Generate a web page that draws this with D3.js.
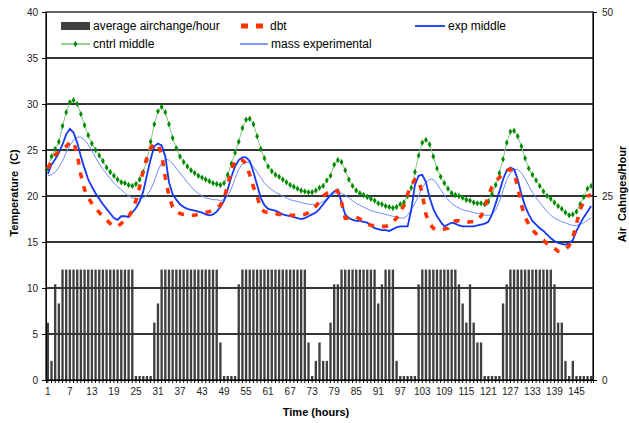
<!DOCTYPE html>
<html>
<head>
<meta charset="utf-8">
<script src="https://cdn.jsdelivr.net/npm/d3@7"></script>
<style>
  html, body { margin: 0; padding: 0; background: #fff; }
  svg { display: block; font-family: "Liberation Sans", Arial, sans-serif; }
</style>
</head>
<body>
<svg id="chart" width="629" height="423"></svg>
<script>
// Hourly measurements, hour 1 .. 149
const hours = d3.range(1, 150);

// Average air changes per hour (right axis)
const airChange = [
  7.8, 2.6, 13, 10.4, 15, 15, 15, 15, 15, 15,
  15, 15, 15, 15, 15, 15, 15, 15, 15, 15,
  15, 15, 15, 15, 0.55, 0.55, 0.55, 0.55, 0.55, 7.8,
  10.4, 15, 15, 15, 15, 15, 15, 15, 15, 15,
  15, 15, 15, 15, 15, 15, 15, 5.1, 0.55, 0.55,
  0.55, 0.55, 13, 15, 15, 15, 15, 15, 15, 15,
  15, 15, 15, 15, 15, 15, 15, 15, 15, 15,
  15, 5.1, 0.55, 2.6, 5.1, 2.6, 2.6, 7.8, 13, 13,
  15, 15, 15, 15, 15, 15, 15, 15, 15, 15,
  10.4, 13, 15, 15, 15, 2.6, 0.55, 0.55, 0.55, 0.55,
  0.55, 13, 15, 15, 15, 15, 15, 15, 15, 15,
  15, 15, 13, 10.4, 7.8, 13, 7.8, 5.1, 5.1, 0.55,
  0.55, 0.55, 0.55, 0.55, 10.4, 13, 15, 15, 15, 15,
  15, 15, 15, 15, 15, 15, 15, 15, 13, 7.8,
  7.8, 2.6, 0.55, 2.6, 0.55, 0.55, 0.55, 0.55, 0.55
];

// Dry bulb temperature (C)
const dbt = [
  23.0, 23.8, 24.5, 24.8, 25.1, 25.4, 25.8, 25.9, 24.5, 22.3,
  20.7, 19.8, 19.2, 18.7, 18.2, 17.8, 17.4, 17.0, 16.7, 16.7,
  17.0, 17.5, 17.8, 18.4, 19.5, 21.0, 22.8, 24.2, 25.2, 25.7,
  25.6, 24.5, 22.0, 20.0, 18.8, 18.3, 18.1, 18.0, 18.0, 17.9,
  17.9, 18.0, 18.1, 18.2, 18.3, 18.5, 18.7, 19.0, 19.7, 21.2,
  22.8, 23.8, 24.0, 23.9, 23.5, 22.3, 21.0, 20.0, 18.6, 18.3,
  18.2, 18.1, 18.1, 18.0, 18.0, 18.0, 17.9, 17.9, 17.9, 17.9,
  18.0, 18.2, 18.6, 18.9, 19.4, 20.0, 20.3, 20.5, 20.7, 20.5,
  19.3, 17.6, 17.6, 17.7, 17.7, 17.5, 17.2, 17.0, 16.8, 16.8,
  16.8, 16.7, 16.7, 16.8, 17.2, 17.6, 18.2, 19.0, 20.2, 21.2,
  21.8, 21.8, 20.2, 18.0, 17.0, 16.5, 16.3, 16.3, 16.4, 16.5,
  17.0, 17.3, 17.3, 17.2, 17.1, 17.2, 17.2, 17.3, 17.8, 18.7,
  20.0, 21.0, 21.6, 22.0, 22.4, 22.8, 22.9, 22.5, 21.0, 19.0,
  17.7, 16.9, 16.3, 15.9, 15.5, 15.2, 14.8, 14.5, 14.3, 14.0,
  14.0, 14.2, 14.6, 15.5, 17.0, 18.5, 19.5, 20.0, 20.1
];

// Experimental room, middle height (C)
const expMiddle = [
  22.4, 23.4, 24.0, 24.7, 25.6, 26.7, 27.3, 26.9, 25.8, 24.3,
  23.0, 21.8, 21.0, 20.3, 19.7, 19.1, 18.6, 18.1, 17.6, 17.4,
  17.8, 17.8, 17.7, 18.2, 18.7, 19.4, 20.5, 22.3, 24.0, 25.4,
  25.7, 25.5, 24.3, 21.5, 20.2, 19.6, 19.1, 18.8, 18.6, 18.5,
  18.4, 18.3, 18.2, 18.0, 17.9, 18.0, 18.3, 18.8, 19.5, 20.7,
  22.1, 23.2, 23.9, 24.2, 24.2, 23.8, 22.6, 21.2, 19.8, 19.0,
  18.6, 18.5, 18.4, 18.2, 18.0, 17.9, 17.8, 17.7, 17.6, 17.5,
  17.6, 17.8, 18.0, 18.2, 18.6, 19.1, 19.6, 20.1, 20.5, 20.7,
  19.3, 18.0, 17.6, 17.4, 17.3, 17.3, 17.2, 17.1, 16.8, 16.5,
  16.4, 16.3, 16.3, 16.2, 16.4, 16.6, 16.7, 16.7, 16.7, 18.5,
  21.2, 22.2, 22.3, 21.5, 19.8, 18.6, 17.8, 17.2, 16.7, 16.9,
  17.1, 17.0, 16.8, 16.7, 16.7, 16.7, 16.7, 16.8, 16.9, 17.0,
  17.2, 18.0, 19.2, 20.5, 21.8, 22.8, 23.1, 22.9, 21.8, 20.2,
  18.9, 18.0, 17.3, 16.9, 16.5, 16.2, 15.8, 15.4, 15.1, 14.9,
  14.8, 14.7, 14.9, 15.2, 16.2, 17.0, 17.7, 18.3, 18.9
];

// Control room, middle height (C)
const cntrlMiddle = [
  23.0, 24.3, 25.1, 25.9, 27.6, 29.1, 30.2, 30.4, 30.0, 28.9,
  27.7, 26.6, 25.7, 25.0, 24.4, 23.8, 23.1, 22.6, 22.2, 21.8,
  21.5, 21.4, 21.2, 21.1, 21.3, 21.8, 22.6, 23.9, 25.9, 27.8,
  29.2, 29.7, 29.1, 27.8, 26.3, 25.2, 24.3, 23.7, 23.2, 22.8,
  22.5, 22.2, 22.0, 21.8, 21.6, 21.4, 21.3, 21.2, 21.4, 22.3,
  23.5, 24.7, 25.9, 27.4, 28.3, 28.4, 27.8, 26.5, 25.1, 24.1,
  23.2, 22.7, 22.3, 22.1, 21.8, 21.5, 21.2, 21.0, 20.8, 20.6,
  20.5, 20.4, 20.4, 20.6, 20.9, 21.1, 21.7, 22.2, 23.4, 23.9,
  23.7, 22.8, 21.8, 21.1, 20.6, 20.3, 20.1, 19.9, 19.7, 19.5,
  19.2, 19.1, 18.9, 18.8, 18.7, 18.8, 19.1, 19.3, 20.0, 20.9,
  22.6, 24.4, 25.8, 26.1, 25.6, 24.3, 23.0, 22.1, 21.4, 20.8,
  20.3, 20.1, 20.0, 19.8, 19.6, 19.5, 19.3, 19.2, 19.2, 19.1,
  19.4, 20.2, 21.2, 22.5, 24.0, 25.8, 27.0, 27.1, 26.5, 25.4,
  24.1, 23.0, 22.3, 21.7, 21.1, 20.5, 20.0, 19.7, 19.3, 18.9,
  18.6, 18.2, 17.9, 18.0, 18.3, 19.1, 19.9, 20.8, 21.1
];

// Mass of the experimental room (C)
const massExperimental = [
  22.2, 22.3, 22.6, 23.1, 23.8, 24.7, 25.5, 26.1, 26.4, 26.4,
  26.1, 25.6, 24.9, 24.2, 23.5, 22.9, 22.4, 21.9, 21.4, 21.0,
  20.7, 20.3, 20.0, 19.8, 19.7, 19.7, 19.8, 20.1, 20.7, 21.6,
  22.8, 23.6, 24.0, 23.9, 23.5, 23.0, 22.5, 22.0, 21.5, 21.0,
  20.6, 20.3, 20.0, 19.8, 19.7, 19.6, 19.6, 19.5, 19.6, 20.0,
  20.8, 21.9, 22.9, 23.5, 23.7, 23.6, 23.2, 22.6, 22.0, 21.4,
  21.0, 20.7, 20.4, 20.2, 20.0, 19.8, 19.6, 19.5, 19.4, 19.3,
  19.2, 19.1, 19.1, 19.1, 19.2, 19.4, 19.7, 20.0, 20.3, 20.4,
  20.3, 20.1, 19.8, 19.5, 19.2, 19.0, 18.8, 18.6, 18.4, 18.3,
  18.2, 18.1, 18.0, 17.9, 17.8, 17.7, 17.6, 17.6, 17.9, 18.5,
  19.2, 20.0, 20.9, 21.5, 21.8, 21.8, 21.3, 20.7, 20.1, 19.6,
  19.2, 18.9, 18.7, 18.5, 18.4, 18.3, 18.2, 18.1, 18.0, 17.9,
  17.9, 18.0, 18.5, 19.4, 20.6, 21.8, 22.5, 22.8, 22.9, 22.5,
  21.9, 21.1, 20.4, 19.8, 19.3, 18.8, 18.3, 17.9, 17.6, 17.4,
  17.2, 17.1, 16.9, 16.8, 16.8, 16.9, 17.1, 17.4, 17.6
];

const tempTicks = [0, 5, 10, 15, 20, 25, 30, 35, 40];
const achTicks = [0, 25, 50];
const hourTicks = d3.range(1, 150, 6);

// Plot area
const plotLeft = 46, plotRight = 593, plotTop = 12, plotBottom = 380;
const svg = d3.select("#chart");

const x = d3.scaleBand().domain(hours).range([plotLeft, plotRight])
  .paddingInner(0.36).paddingOuter(0.18);
const cx = h => x(h) + x.bandwidth() / 2;
const yT = d3.scaleLinear().domain([0, 40]).range([plotBottom, plotTop]);
const yA = d3.scaleLinear().domain([0, 50]).range([plotBottom, plotTop]);

// Air change bars
svg.append("g").selectAll("rect").data(hours).join("rect")
  .attr("x", h => x(h))
  .attr("width", x.bandwidth())
  .attr("y", (h, i) => yA(airChange[i]))
  .attr("height", (h, i) => plotBottom - yA(airChange[i]))
  .attr("fill", "#404040");

// Horizontal gridlines
svg.append("g").selectAll("line").data(tempTicks.filter(t => t > 0 && t < 40)).join("line")
  .attr("x1", plotLeft).attr("x2", plotRight)
  .attr("y1", d => yT(d)).attr("y2", d => yT(d))
  .attr("stroke", "#353535").attr("stroke-width", 2);

// Frame
svg.append("rect").attr("x", plotLeft).attr("y", plotTop)
  .attr("width", plotRight - plotLeft).attr("height", plotBottom - plotTop)
  .attr("fill", "none").attr("stroke", "#000").attr("stroke-width", 1.2);

// Left axis
const axL = svg.append("g").attr("transform", `translate(${plotLeft},0)`)
  .call(d3.axisLeft(yT).tickValues(tempTicks).tickSize(4).tickPadding(4));
// Right axis
const axR = svg.append("g").attr("transform", `translate(${plotRight},0)`)
  .call(d3.axisRight(yA).tickValues(achTicks).tickSize(4).tickPadding(5));
// Bottom axis: a tick for every hour, labels every 6 hours
const axB = svg.append("g").attr("transform", `translate(0,${plotBottom})`)
  .call(d3.axisBottom(x).tickSize(3).tickPadding(5)
    .tickFormat(h => hourTicks.includes(h) ? h : ""));

[axL, axR, axB].forEach(a => {
  a.select(".domain").attr("stroke", "#000");
  a.selectAll(".tick line").attr("stroke", "#000");
  a.selectAll("text").attr("font-size", 10).attr("fill", "#222")
    .attr("font-family", '"Liberation Sans", Arial, sans-serif');
});

// Line generator shared by the temperature series
const line = vals => d3.line().x((d, i) => cx(hours[i])).y(d => yT(d))(vals);

svg.append("path").attr("d", line(cntrlMiddle))
  .attr("fill", "none").attr("stroke", "#86c886").attr("stroke-width", 1);
svg.append("g").selectAll("path").data(cntrlMiddle).join("path")
  .attr("transform", (d, i) => `translate(${cx(hours[i])},${yT(d)})`)
  .attr("d", d3.symbol(d3.symbolDiamond, 12))
  .attr("fill", "#008a00");

svg.append("path").attr("d", line(massExperimental))
  .attr("fill", "none").attr("stroke", "#6f8cff").attr("stroke-width", 1);

svg.append("path").attr("d", line(expMiddle))
  .attr("fill", "none").attr("stroke", "#1438f5").attr("stroke-width", 1.8);

svg.append("path").attr("d", line(dbt))
  .attr("fill", "none").attr("stroke", "#ff3300").attr("stroke-width", 3.6)
  .attr("stroke-dasharray", "6,8");

// Legend
const lg = svg.append("g").attr("font-size", 12).attr("fill", "#000");
lg.append("rect").attr("x", 61).attr("y", 22).attr("width", 29).attr("height", 8).attr("fill", "#404040");
lg.append("text").attr("x", 93).attr("y", 30).text("average airchange/hour");

lg.append("line").attr("x1", 241).attr("x2", 263).attr("y1", 26).attr("y2", 26)
  .attr("stroke", "#ff3300").attr("stroke-width", 5).attr("stroke-dasharray", "7,8");
lg.append("text").attr("x", 270).attr("y", 30).text("dbt");

lg.append("line").attr("x1", 415).attr("x2", 445).attr("y1", 26).attr("y2", 26)
  .attr("stroke", "#1438f5").attr("stroke-width", 1.8);
lg.append("text").attr("x", 448).attr("y", 30).text("exp middle");

lg.append("line").attr("x1", 61).attr("x2", 90).attr("y1", 44).attr("y2", 44)
  .attr("stroke", "#2e9e2e").attr("stroke-width", 1);
lg.append("path").attr("transform", "translate(75.5,44)")
  .attr("d", d3.symbol(d3.symbolDiamond, 12)).attr("fill", "#008a00");
lg.append("text").attr("x", 93).attr("y", 48).text("cntrl middle");

lg.append("line").attr("x1", 240).attr("x2", 268).attr("y1", 44).attr("y2", 44)
  .attr("stroke", "#1438f5").attr("stroke-width", 1);
lg.append("text").attr("x", 271).attr("y", 48).text("mass experimental");

// Axis titles
svg.append("text").attr("transform", "translate(18,193) rotate(-90)")
  .attr("text-anchor", "middle").attr("font-size", 11).attr("font-weight", "bold")
  .attr("xml:space", "preserve").text("Temperature  (C)");
svg.append("text").attr("transform", "translate(626,194) rotate(-90)")
  .attr("text-anchor", "middle").attr("font-size", 11).attr("font-weight", "bold")
  .attr("xml:space", "preserve").text("Air  Cahnges/Hour");
svg.append("text").attr("x", 316).attr("y", 416)
  .attr("text-anchor", "middle").attr("font-size", 11).attr("font-weight", "bold")
  .text("Time (hours)");
</script>
</body>
</html>
